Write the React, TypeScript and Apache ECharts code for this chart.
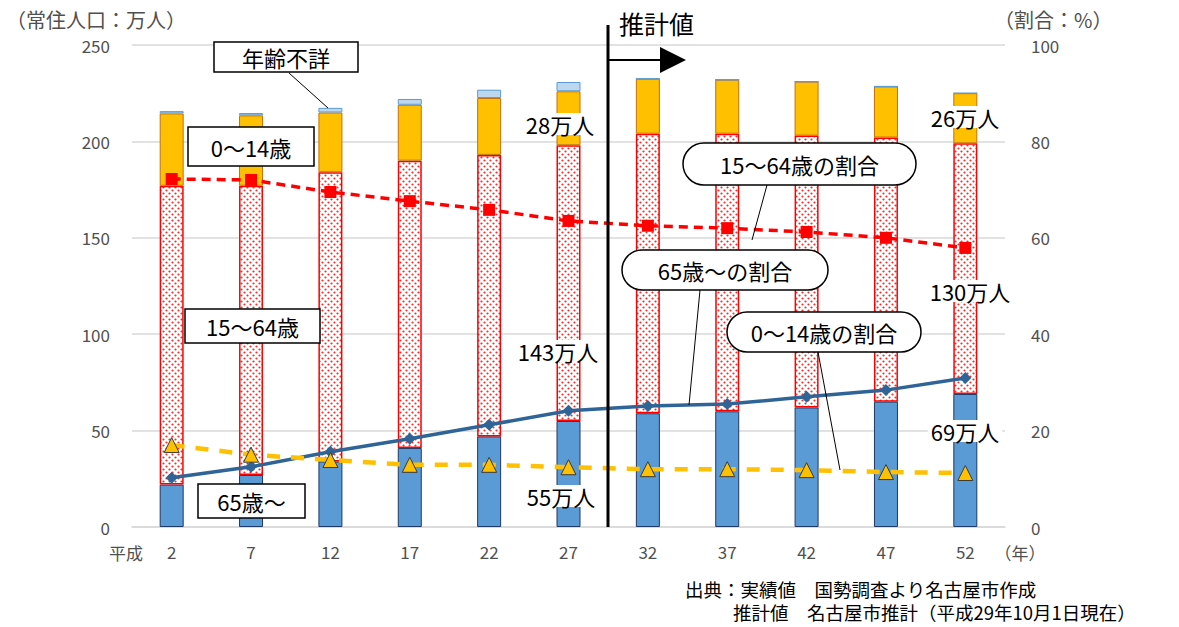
import React, { useEffect, useRef } from 'react';
import * as echarts from 'echarts';

const years = ['2', '7', '12', '17', '22', '27', '32', '37', '42', '47', '52'];
const age65plus = [22, 27, 34, 41, 47, 55, 59, 60, 62, 65, 69];
const age15to64 = [155, 150, 150, 149, 146, 143, 145, 144, 141, 137, 130];
const age0to14 = [37.5, 36.5, 31, 29, 29.5, 28, 28.5, 28, 28, 26.5, 26];
const ageUnknown = [1.2, 1.2, 2.4, 3, 4.3, 4.8, 0, 0, 0, 0, 0];
const ratio15to64 = [72.2, 72, 69.5, 67.6, 65.8, 63.5, 62.5, 62, 61.2, 60, 57.9];
const ratio65plus = [10.2, 12.5, 15.6, 18.3, 21.2, 24.1, 25.1, 25.5, 27, 28.4, 30.9];
const ratio0to14 = [17, 15, 13.9, 12.9, 12.9, 12.4, 12, 12, 11.8, 11.4, 11.2];
const leftTicks = { min: 0, max: 250, interval: 50 };
const rightTicks = { min: 0, max: 100, interval: 20 };

const FONT = '"Noto Sans CJK JP", "Noto Sans", sans-serif';

function makeDots(): HTMLCanvasElement {
  const c = document.createElement('canvas');
  c.width = 6;
  c.height = 6;
  const ctx = c.getContext('2d')!;
  ctx.fillStyle = '#ffffff';
  ctx.fillRect(0, 0, 6, 6);
  ctx.fillStyle = '#f03030';
  ctx.beginPath();
  ctx.arc(1.5, 1.5, 1.1, 0, Math.PI * 2);
  ctx.fill();
  ctx.beginPath();
  ctx.arc(4.5, 4.5, 1.1, 0, Math.PI * 2);
  ctx.fill();
  return c;
}

function boxText(x: number, y: number, w: number, h: number, text: string, r = 0) {
  return [
    {
      type: 'rect',
      shape: { x, y, width: w, height: h, r },
      style: { fill: '#fff', stroke: '#000', lineWidth: 1.5 },
      z: 100,
    },
    {
      type: 'text',
      x: x + w / 2,
      y: y + h / 2,
      style: { text, fill: '#000', font: `22px ${FONT}`, align: 'center', verticalAlign: 'middle' },
      z: 101,
    },
  ];
}

function valText(cx: number, cy: number, text: string) {
  return {
    type: 'text',
    x: cx,
    y: cy,
    style: {
      text,
      fill: '#000',
      font: `22px ${FONT}`,
      align: 'center',
      verticalAlign: 'middle',
      backgroundColor: '#fff',
      padding: [0, 3],
    },
    z: 100,
  };
}

function leader(x1: number, y1: number, x2: number, y2: number) {
  return { type: 'line', shape: { x1, y1, x2, y2 }, style: { stroke: '#000', lineWidth: 1 }, z: 99 };
}

export default function App() {
  const ref = useRef<HTMLDivElement>(null);
  useEffect(() => {
    document.body.style.margin = '0';
    if (!ref.current) return;
    const chart = echarts.init(ref.current, undefined, { renderer: 'svg' });
    const dots = makeDots();
    const axisLabel = { color: '#505050', fontSize: 17, fontFamily: FONT };
    chart.setOption({
      animation: false,
      backgroundColor: '#fff',
      grid: { left: 132, right: 174, top: 45, bottom: 100 },
      xAxis: {
        type: 'category',
        data: years,
        axisLine: { lineStyle: { color: '#d9d9d9', width: 1.5 } },
        axisTick: { show: false },
        axisLabel: { ...axisLabel, margin: 16 },
      },
      yAxis: [
        {
          type: 'value',
          ...leftTicks,
          axisLine: { show: false },
          axisTick: { show: false },
          axisLabel: { ...axisLabel, margin: 22 },
          splitLine: { lineStyle: { color: '#d9d9d9', width: 1.5 } },
        },
        {
          type: 'value',
          ...rightTicks,
          position: 'right',
          axisLine: { show: false },
          axisTick: { show: false },
          axisLabel: { ...axisLabel, margin: 26 },
          splitLine: { show: false },
        },
      ],
      series: [
        {
          name: '65歳～',
          type: 'bar',
          stack: 'pop',
          barWidth: 24,
          data: age65plus,
          itemStyle: { color: '#5b9bd5', borderColor: '#1f3864', borderWidth: 1 },
        },
        {
          name: '15～64歳',
          type: 'bar',
          stack: 'pop',
          barWidth: 24,
          data: age15to64,
          itemStyle: { color: { image: dots, repeat: 'repeat' }, borderColor: '#ff0000', borderWidth: 1.5 },
        },
        {
          name: '0～14歳',
          type: 'bar',
          stack: 'pop',
          barWidth: 24,
          data: age0to14,
          itemStyle: { color: '#ffc000', borderColor: '#c5700f', borderWidth: 1 },
        },
        {
          name: '年齢不詳',
          type: 'bar',
          stack: 'pop',
          barWidth: 24,
          data: ageUnknown,
          itemStyle: { color: '#bdd7ee', borderColor: '#5b9bd5', borderWidth: 1 },
        },
        {
          name: '15～64歳の割合',
          type: 'line',
          yAxisIndex: 1,
          data: ratio15to64,
          symbol: 'rect',
          symbolSize: 12,
          lineStyle: { color: '#ff0000', width: 3.5, type: [9, 6] },
          itemStyle: { color: '#ff0000' },
          z: 5,
        },
        {
          name: '65歳～の割合',
          type: 'line',
          yAxisIndex: 1,
          data: ratio65plus,
          symbol: 'diamond',
          symbolSize: 12,
          lineStyle: { color: '#2e6496', width: 3.5 },
          itemStyle: { color: '#2e6496' },
          z: 5,
        },
        {
          name: '0～14歳の割合',
          type: 'line',
          yAxisIndex: 1,
          data: ratio0to14,
          symbol: 'triangle',
          symbolSize: 15,
          lineStyle: { color: '#ffc000', width: 4.5, type: [13, 11] },
          itemStyle: { color: '#ffc000', borderColor: '#3a3a3a', borderWidth: 1 },
          z: 5,
        },
      ],
      graphic: [
        { type: 'text', left: 6, top: 9, style: { text: '（常住人口：万人）', fill: '#505050', font: `20px ${FONT}` }, z: 100 },
        { type: 'text', left: 994, top: 9, style: { text: '（割合：%）', fill: '#505050', font: `20px ${FONT}` }, z: 100 },
        { type: 'text', x: 126, y: 552, style: { text: '平成', fill: '#505050', font: `17px ${FONT}`, align: 'center', verticalAlign: 'middle' }, z: 100 },
        { type: 'text', x: 1020, y: 552, style: { text: '（年）', fill: '#505050', font: `17px ${FONT}`, align: 'center', verticalAlign: 'middle' }, z: 100 },
        { type: 'line', shape: { x1: 608, y1: 25, x2: 608, y2: 527 }, style: { stroke: '#000', lineWidth: 3 }, z: 100 },
        { type: 'line', shape: { x1: 608, y1: 60, x2: 664, y2: 60 }, style: { stroke: '#000', lineWidth: 2 }, z: 100 },
        { type: 'polygon', shape: { points: [[660, 47], [686, 60], [660, 73]] }, style: { fill: '#000' }, z: 100 },
        { type: 'text', left: 619, top: 10, style: { text: '推計値', fill: '#000', font: `25px ${FONT}` }, z: 100 },
        leader(289, 73, 328, 108),
        ...boxText(214, 42, 144, 30, '年齢不詳'),
        ...boxText(188, 127, 126, 39, '0～14歳'),
        ...boxText(185, 309, 135, 34, '15～64歳'),
        ...boxText(198, 484, 107, 34, '65歳～'),
        leader(767, 185, 752, 240),
        ...boxText(683, 143, 233, 42, '15～64歳の割合', 21),
        leader(700, 290, 689, 405),
        ...boxText(622, 250, 206, 40, '65歳～の割合', 20),
        leader(818, 352, 840, 470),
        ...boxText(727, 312, 194, 40, '0～14歳の割合', 20),
        valText(560, 124, '28万人'),
        valText(558, 351, '143万人'),
        valText(561, 496, '55万人'),
        valText(965, 117, '26万人'),
        valText(970, 291, '130万人'),
        valText(965, 431, '69万人'),
        { type: 'text', x: 685, y: 589, style: { text: '出典：実績値　国勢調査より名古屋市作成', fill: '#000', font: `18.5px ${FONT}`, verticalAlign: 'middle' }, z: 100 },
        { type: 'text', x: 733, y: 612, style: { text: '推計値　名古屋市推計（平成29年10月1日現在）', fill: '#000', font: `18.5px ${FONT}`, verticalAlign: 'middle' }, z: 100 },
      ],
    });
    return () => chart.dispose();
  }, []);
  return <div ref={ref} style={{ width: 1179, height: 627 }} />;
}
